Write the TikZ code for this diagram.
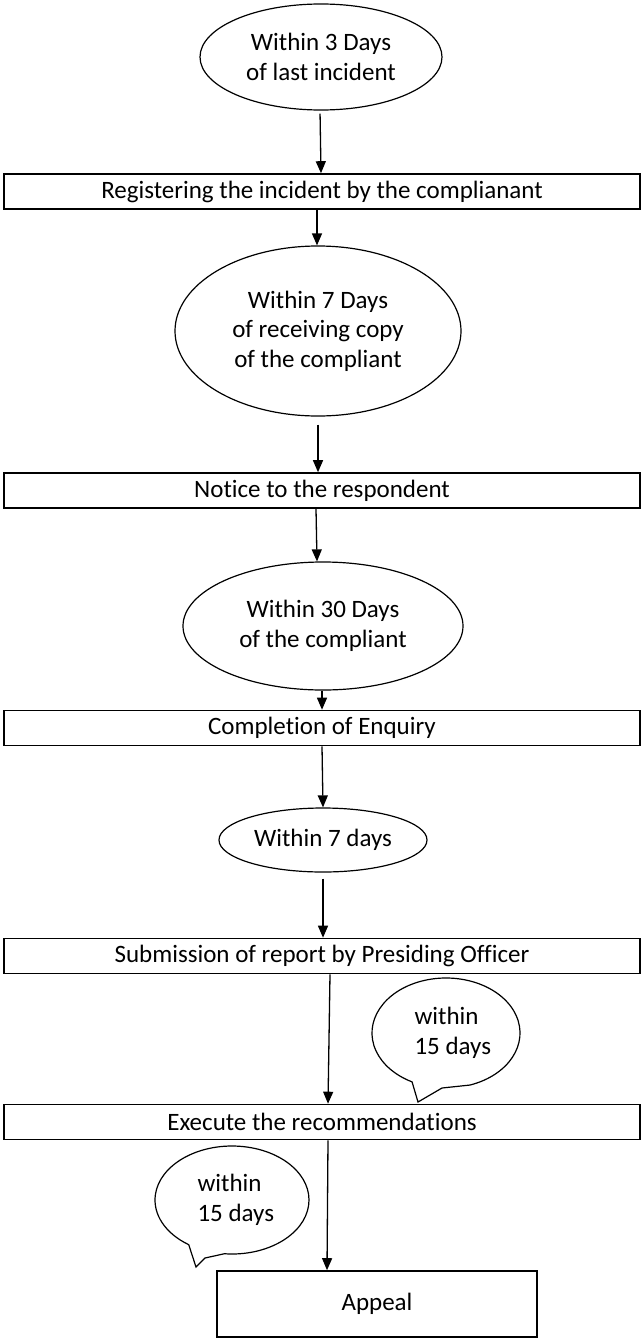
\documentclass[tikz,border=0pt]{standalone}
\usepackage{fontspec}
\setmainfont{Carlito}[Ligatures=NoCommon]
\usetikzlibrary{shapes.geometric,arrows.meta}
\begin{document}
\begin{tikzpicture}[x=1pt,y=1pt,
  font=\fontsize{25}{29.5}\selectfont,
  flowbox/.style={draw, line width=1.6pt, inner sep=0pt, minimum height=35pt, minimum width=636pt},
  oval/.style={draw, ellipse, line width=1.2pt, inner sep=0pt, align=center},
  arr/.style={line width=1.3pt, -{Triangle[length=12pt,width=10pt]}},
  bubble/.style={draw, fill=white, line width=1.2pt, line join=miter},
  ]
\useasboundingbox (0,0) rectangle (644,-1338);
\fill[white] (0,0) rectangle (644,-1338);

% ovals
\node[oval, minimum width=242pt, minimum height=106pt] (e1) at (321,-57) {Within 3 Days\\of last incident};
\node[oval, minimum width=286pt, minimum height=170pt] (e2) at (318,-331) {Within 7 Days\\of receiving copy\\of the compliant};
\node[oval, minimum width=280pt, minimum height=128pt] (e3) at (323,-626) {Within 30 Days\\of the compliant};
\node[oval, minimum width=208pt, minimum height=64pt] (e4) at (323,-840) {Within 7 days};

% boxes
\node[flowbox] (b1) at (322,-191.5) {Registering the incident by the complianant};
\node[flowbox] (b2) at (322,-490.5) {Notice to the respondent};
\node[flowbox] (b3) at (322,-728) {Completion of Enquiry};
\node[flowbox] (b4) at (322,-956) {Submission of report by Presiding Officer};
\node[flowbox] (b5) at (322,-1122) {Execute the recommendations};
\node[draw, line width=1.6pt, inner sep=0pt, minimum width=320pt, minimum height=66pt] (b6) at (377,-1304) {Appeal};

% callouts
\draw[bubble] (446,-1033) ++(288.9:74 and 55)
  arc[start angle=288.9, end angle=602.7, x radius=74, y radius=55]
  -- (418,-1102) -- (442,-1088) -- cycle;
\node[align=left, anchor=west] (t1) at (411,-1033) {within\\15 days};
\draw[bubble] (232,-1200) ++(264.3:77 and 54)
  arc[start angle=264.3, end angle=595.8, x radius=77, y radius=54]
  -- (196,-1267) -- (205,-1258) -- cycle;
\node[align=left, anchor=west] (t2) at (194,-1200) {within\\15 days};

% arrows
\draw[arr, shorten <=3pt] ([xshift=-1pt]e1.south) -- ([xshift=-1pt]b1.north);
\draw[arr] ([xshift=-5pt]b1.south) -- ([xshift=-1pt]e2.north);
\draw[arr, shorten <=8pt] (e2.south) -- ([xshift=-4pt]b2.north);
\draw[arr] ([xshift=-6pt]b2.south) -- ([xshift=-6pt]e3.north);
\draw[arr] ([xshift=-1pt]e3.south) -- ([xshift=0pt]b3.north);
\draw[arr] ([xshift=0pt]b3.south) -- ([xshift=0pt]e4.north);
\draw[arr, shorten <=6pt] ([xshift=0pt]e4.south) -- ([xshift=1pt]b4.north);
\draw[arr] ([xshift=8pt]b4.south) -- ([xshift=6pt]b5.north);
\draw[arr] ([xshift=6pt]b5.south) -- ([xshift=-50pt]b6.north);
\end{tikzpicture}
\end{document}
